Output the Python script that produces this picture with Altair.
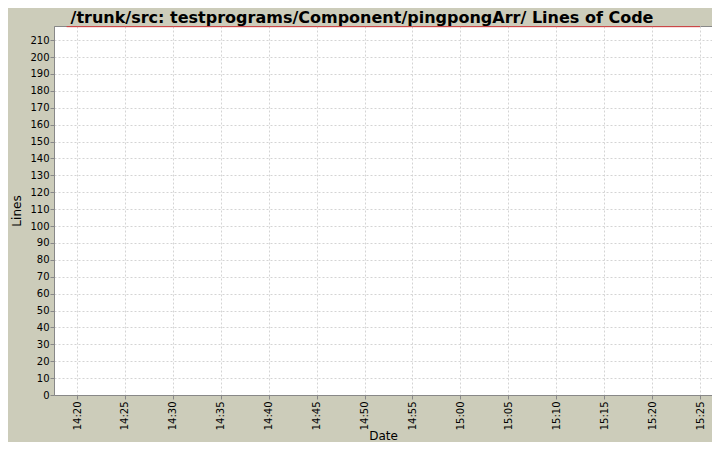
import altair as alt
import pandas as pd

# Data
times = ["2010-01-01T14:18:55", "2010-01-01T15:25:00"]
lines_of_code = [218, 218]

tick_labels = ["14:20", "14:25", "14:30", "14:35", "14:40", "14:45", "14:50",
               "14:55", "15:00", "15:05", "15:10", "15:15", "15:20", "15:25"]
y_ticks = list(range(0, 211, 10))

df = pd.DataFrame({"Date": times, "Lines": lines_of_code})


def dt(hh, mm, ss=0):
    return alt.DateTime(year=2010, month=1, date=1, hours=hh, minutes=mm, seconds=ss)


x_values = [dt(int(t.split(":")[0]), int(t.split(":")[1])) for t in tick_labels]

BG = "#CCCCBA"
FONT = "DejaVu Sans"

line = alt.Chart(df).mark_line(color="#D93A3A", strokeWidth=1, clip=False).encode(
    x=alt.X(
        "Date:T",
        title="Date",
        scale=alt.Scale(domain=[dt(14, 17, 36), dt(15, 26, 15)]),
        axis=alt.Axis(
            values=x_values,
            format="%H:%M",
            labelAngle=270,
            labelFontSize=10,
            labelFont=FONT,
            labelColor="#000000",
            labelPadding=2,
            tickSize=4,
            tickColor="#888888",
            domainColor="#888888",
            gridColor="#D4D4D4",
            gridDash=[2, 2],
            titleFont=FONT,
            titleFontSize=12,
            titleFontWeight="normal",
            titleColor="#000000",
            titleBaseline="alphabetic",
            titleY=44,
        ),
    ),
    y=alt.Y(
        "Lines:Q",
        title="Lines",
        scale=alt.Scale(domain=[0, 218.4], nice=False, zero=True),
        axis=alt.Axis(
            values=y_ticks,
            labelFontSize=10,
            labelFont=FONT,
            labelColor="#000000",
            labelPadding=1,
            tickSize=4,
            tickColor="#888888",
            domainColor="#888888",
            gridColor="#D4D4D4",
            gridDash=[2, 2],
            titleFont=FONT,
            titleFontSize=12,
            titleFontWeight="normal",
            titleColor="#000000",
            titlePadding=6,
        ),
    ),
)

chart = line.properties(
    width=658,
    height=369,
    background=BG,
    padding={"left": 46, "top": 18, "right": 0, "bottom": 47},
    autosize=alt.AutoSizeParams(type="none"),
    title=alt.TitleParams(
        text="/trunk/src: testprograms/Component/pingpongArr/ Lines of Code",
        font=FONT,
        fontSize=16,
        fontWeight="bold",
        color="#000000",
        anchor="middle",
        dx=-21,
        offset=-1,
    ),
).configure_view(
    fill="#FFFFFF",
    stroke="#888888",
    strokeWidth=1,
)

chart.save("out.html", embed_options={"renderer": "svg", "actions": False})
